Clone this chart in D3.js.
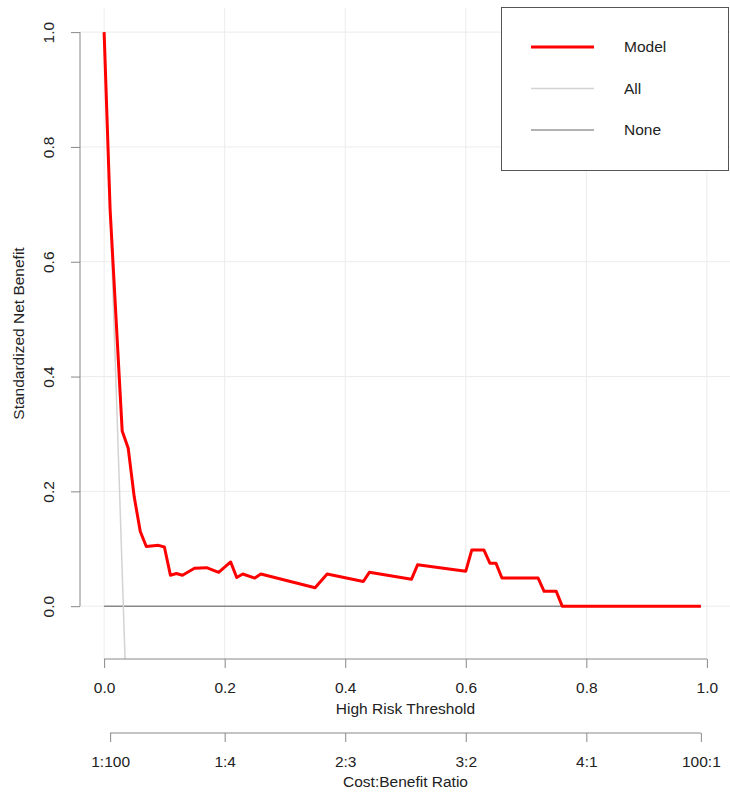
<!DOCTYPE html>
<html>
<head>
<meta charset="utf-8">
<script src="https://cdn.jsdelivr.net/npm/d3@7"></script>
<style>
  body { margin: 0; background: #fff; }
  svg text { font-family: "Liberation Sans", Arial, sans-serif; fill: #222; }
</style>
</head>
<body>
<div id="chart"></div>
<script>
// decision curve values
const thresholds = [0.00, 0.01, 0.03, 0.04, 0.05, 0.06, 0.07, 0.09, 0.10, 0.11, 0.12, 0.13,
  0.15, 0.17, 0.19, 0.21, 0.22, 0.23, 0.25, 0.26, 0.35, 0.37, 0.43, 0.44, 0.51, 0.52,
  0.60, 0.61, 0.63, 0.64, 0.65, 0.66, 0.72, 0.73, 0.75, 0.76, 0.99];
const modelNB = [1.000, 0.690, 0.305, 0.275, 0.190, 0.130, 0.104, 0.106, 0.103, 0.054, 0.057, 0.054,
  0.066, 0.067, 0.059, 0.077, 0.050, 0.056, 0.049, 0.056, 0.032, 0.056, 0.043, 0.059, 0.047, 0.072,
  0.061, 0.098, 0.098, 0.075, 0.075, 0.049, 0.049, 0.026, 0.026, 0.000, 0.000];

const allThresholds = [0.00, 0.01, 0.02, 0.03, 0.04];
const allNB = [1.00, 0.69, 0.38, 0.06, -0.26];

const noneThresholds = [0.00, 0.99];
const noneNB = [0, 0];

const xTicks = [0, 0.2, 0.4, 0.6, 0.8, 1.0];
const yTicks = [0, 0.2, 0.4, 0.6, 0.8, 1.0];
const ratioTicks = [0.01, 0.2, 0.4, 0.6, 0.8, 0.99];
const ratioLabels = ['1:100', '1:4', '2:3', '3:2', '4:1', '100:1'];

const legendNames = ['Model', 'All', 'None'];

let width = 730, height = 796;
let plot = {left: 80, right: 731, top: 8, bottom: 659};
let fontSize = '15.5px';

let svg = d3.select('#chart').append('svg')
            .attr('width', width)
            .attr('height', height);

let xScale = d3.scaleLinear()
              .domain([-0.04, 1.04])
              .range([plot.left, plot.right]);

let yScale = d3.scaleLinear()
              .domain([-0.092, 1.042])
              .range([plot.bottom, plot.top]);

svg.append('clipPath').attr('id', 'clip')
    .append('rect')
      .attr('x', plot.left).attr('y', plot.top)
      .attr('width', plot.right - plot.left)
      .attr('height', plot.bottom - plot.top);

// grid
svg.append('g').selectAll('line')
    .data(xTicks)
  .enter().append('line')
    .attr('x1', (d) => xScale(d)).attr('x2', (d) => xScale(d))
    .attr('y1', plot.top).attr('y2', plot.bottom)
    .attr('stroke', '#ececec').attr('stroke-width', 1);

svg.append('g').selectAll('line')
    .data(yTicks)
  .enter().append('line')
    .attr('x1', plot.left).attr('x2', plot.right)
    .attr('y1', (d) => yScale(d)).attr('y2', (d) => yScale(d))
    .attr('stroke', '#ececec').attr('stroke-width', 1);

// curves
let lineGen = (xs) => d3.line()
    .x((d, i) => xScale(xs[i]))
    .y((d) => yScale(d));

let curves = svg.append('g').attr('clip-path', 'url(#clip)');

curves.append('path')
    .attr('d', lineGen(noneThresholds)(noneNB))
    .attr('fill', 'none').attr('stroke', '#555').attr('stroke-width', 1);

curves.append('path')
    .attr('d', lineGen(allThresholds)(allNB))
    .attr('fill', 'none').attr('stroke', '#d3d3d3').attr('stroke-width', 1.5);

curves.append('path')
    .attr('d', lineGen(thresholds)(modelNB))
    .attr('fill', 'none').attr('stroke', '#ff0000').attr('stroke-width', 3)
    .attr('stroke-linejoin', 'round');

// x axis
let xAxis = svg.append('g')
    .attr('transform', 'translate(0,' + plot.bottom + ')')
    .call(d3.axisBottom(xScale).tickValues(xTicks).tickFormat(d3.format('.1f')).tickSize(9).tickPadding(14));
xAxis.select('.domain').remove();
xAxis.append('line')
    .attr('x1', xScale(0)).attr('x2', xScale(1))
    .attr('stroke', '#888');

// cost:benefit axis
let rAxis = svg.append('g')
    .attr('transform', 'translate(0,733)')
    .call(d3.axisBottom(xScale).tickValues(ratioTicks)
      .tickFormat((d, i) => ratioLabels[i]).tickSize(9).tickPadding(14));
rAxis.select('.domain').remove();
rAxis.append('line')
    .attr('x1', xScale(ratioTicks[0])).attr('x2', xScale(ratioTicks[ratioTicks.length - 1]))
    .attr('stroke', '#888');

// y axis
let yAxis = svg.append('g')
    .attr('transform', 'translate(' + plot.left + ',0)')
    .call(d3.axisLeft(yScale).tickValues(yTicks).tickFormat(d3.format('.1f')).tickSize(9));
yAxis.select('.domain').remove();
yAxis.append('line')
    .attr('y1', yScale(0)).attr('y2', yScale(1))
    .attr('stroke', '#888');
yAxis.selectAll('.tick text')
    .attr('x', 0)
    .attr('text-anchor', 'middle')
    .attr('transform', 'translate(-31,0) rotate(-90)')
    .attr('dy', '0.35em');

[xAxis, rAxis, yAxis].forEach((ax) => {
  ax.selectAll('.tick line').attr('stroke', '#888');
  ax.selectAll('.tick text').style('font-size', fontSize).attr('fill', '#222');
});

// titles
svg.append('text')
    .attr('x', (plot.left + plot.right) / 2).attr('y', 709)
    .attr('dy', '0.35em').attr('text-anchor', 'middle')
    .style('font-size', fontSize)
    .text('High Risk Threshold');

svg.append('text')
    .attr('x', (plot.left + plot.right) / 2).attr('y', 782)
    .attr('dy', '0.35em').attr('text-anchor', 'middle')
    .style('font-size', fontSize)
    .text('Cost:Benefit Ratio');

svg.append('text')
    .attr('transform', 'translate(19,' + (plot.top + plot.bottom) / 2 + ') rotate(-90)')
    .attr('dy', '0.35em').attr('text-anchor', 'middle')
    .style('font-size', fontSize)
    .text('Standardized Net Benefit');

// legend
let legend = svg.append('g');
legend.append('rect')
    .attr('x', 501.5).attr('y', 7.5)
    .attr('width', 227).attr('height', 163)
    .attr('fill', '#fff').attr('stroke', '#555').attr('stroke-width', 1);

let legendStyles = [
  {color: '#ff0000', w: 3},
  {color: '#d3d3d3', w: 1.5},
  {color: '#666', w: 1}
];

legendNames.forEach((name, i) => {
  let ly = 47 + i * 41.5;
  legend.append('line')
      .attr('x1', 531).attr('x2', 594)
      .attr('y1', ly).attr('y2', ly)
      .attr('stroke', legendStyles[i].color)
      .attr('stroke-width', legendStyles[i].w);
  legend.append('text')
      .attr('x', 624).attr('y', ly)
      .attr('dy', '0.35em')
      .style('font-size', fontSize)
      .text(name);
});
</script>
</body>
</html>
